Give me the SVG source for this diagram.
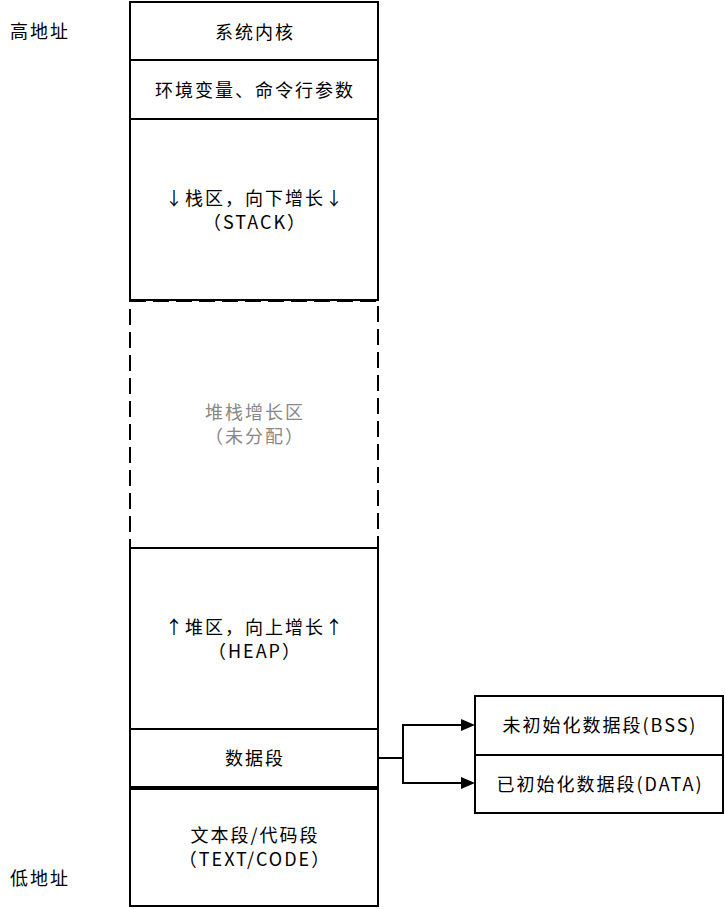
<svg xmlns="http://www.w3.org/2000/svg" width="725" height="909" viewBox="0 0 725 909">
<defs>
<style>
.box{fill:#fff;stroke:#000;stroke-width:2}
.dash{fill:#fff;stroke:#000;stroke-width:2;stroke-dasharray:16 7}
.t{font-family:"Noto Sans CJK SC","Noto Sans",sans-serif;font-size:18px;letter-spacing:2px;fill:#000;text-anchor:middle;dominant-baseline:central}
.g{fill:#888}
.l{text-anchor:start}
.conn{fill:none;stroke:#000;stroke-width:2}
</style>
</defs>
<rect width="725" height="909" fill="#fff"/>
<g id="label-high"><text class="t l" x="10" y="30">高地址</text></g>
<g id="label-low"><text class="t l" x="10" y="877">低地址</text></g>
<g id="gap">
<rect class="dash" x="130" y="301" width="248" height="247"/>
<text class="t g" x="255" y="411">堆栈增长区</text>
<text class="t g" x="255" y="435">（未分配）</text>
</g>
<g id="kernel">
<rect class="box" x="130" y="2" width="248" height="58"/>
<text class="t" x="255" y="31">系统内核</text>
</g>
<g id="env">
<rect class="box" x="130" y="60" width="248" height="59"/>
<text class="t" x="255" y="89">环境变量、命令行参数</text>
</g>
<g id="stack">
<rect class="box" x="130" y="119" width="248" height="181"/>
<text class="t" x="255" y="197">↓栈区，向下增长↓</text>
<text class="t" x="255" y="221">（STACK）</text>
</g>
<g id="heap">
<rect class="box" x="130" y="548" width="248" height="181"/>
<text class="t" x="255" y="626">↑堆区，向上增长↑</text>
<text class="t" x="255" y="650">（HEAP）</text>
</g>
<g id="data">
<rect class="box" x="130" y="729" width="248" height="58"/>
<text class="t" x="255" y="757">数据段</text>
</g>
<g id="text">
<rect class="box" x="130" y="789" width="248" height="117"/>
<text class="t" x="255" y="834">文本段/代码段</text>
<text class="t" x="255" y="858">（TEXT/CODE）</text>
</g>
<g id="bss">
<rect class="box" x="475" y="696" width="248" height="59"/>
<text class="t" x="600" y="724">未初始化数据段(BSS)</text>
</g>
<g id="datainit">
<rect class="box" x="475" y="755" width="248" height="58"/>
<text class="t" x="600" y="783">已初始化数据段(DATA)</text>
</g>
<g id="connectors">
<path class="conn" d="M378,758 H403 V725 H462"/>
<path class="conn" d="M403,758 V783 H462"/>
<path d="M461,719 L475,725 L461,731 Z" fill="#000"/>
<path d="M461,777 L475,783 L461,789 Z" fill="#000"/>
</g>
</svg>
